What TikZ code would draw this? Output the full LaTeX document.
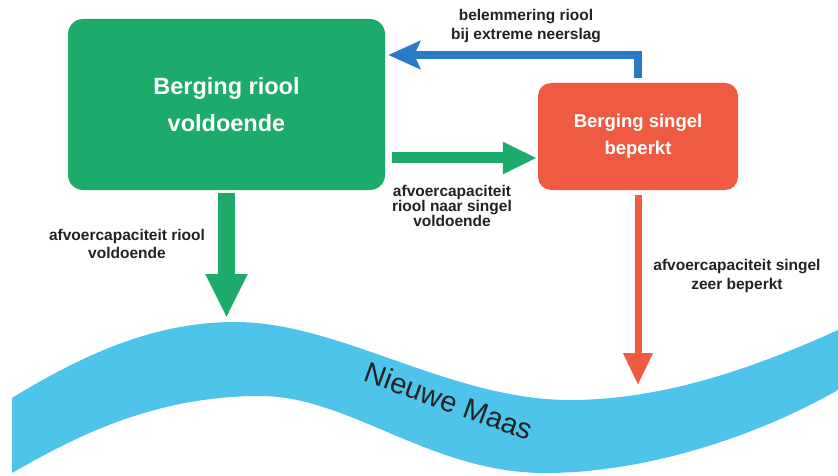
\documentclass[tikz,border=0pt]{standalone}
\usepackage{fontspec}
\setmainfont{Liberation Sans}
\usepackage{tikz}
\usetikzlibrary{positioning, arrows.meta}
\definecolor{rGreen}{HTML}{1DAB6B}
\definecolor{sRed}{HTML}{EF5B40}
\definecolor{bBlue}{HTML}{2A7BC6}
\definecolor{wRiver}{HTML}{4FC4EA}
\definecolor{nInk}{HTML}{222222}
\tikzset{
  storebox/.style={rounded corners=15pt, text=white, align=center},
  rioolbox/.style={storebox, fill=rGreen, minimum width=317pt, minimum height=171pt,
    font=\bfseries\fontsize{23.5}{37}\selectfont},
  singelbox/.style={storebox, fill=sRed, minimum width=200pt, minimum height=107pt,
    rounded corners=13pt, font=\bfseries\fontsize{18.5}{27}\selectfont},
  flowlabel/.style={text=nInk, align=center, font=\bfseries\fontsize{15.5}{18.5}\selectfont},
}

\begin{document}
\begin{tikzpicture}[x=1pt, y=-1pt, >=Stealth]
        \useasboundingbox (0,0) rectangle (838,476);
        % river
        \fill[wRiver] (12,398) .. controls (90,350) and (160,322) .. (235,322)
          .. controls (340,322) and (450,400) .. (570,400)
          .. controls (660,400) and (750,370) .. (838,330)
          -- (838,390) .. controls (750,440) and (640,473) .. (545,473)
          .. controls (430,473) and (350,396) .. (260,396)
          .. controls (150,396) and (70,440) .. (12,473) -- cycle;
        \node[text=nInk, font=\fontsize{29}{29}\selectfont, rotate=-20] (maas) at (449,401) {Nieuwe Maas};
        % storage
        \node[rioolbox] (riool) at (226.5,104.5) {Berging riool\\voldoende};
        \node[singelbox] (singel) at (638,136.5) {Berging singel\\beperkt};
        \coordinate (knik) at (638,55);
        \coordinate (midden) at (450,158);
        \coordinate (inlaat) at (226.5,318);
        \coordinate (uitlaat) at (638,385);
        % flows
        \draw[bBlue, line width=8pt, -{Stealth[length=32pt, width=28pt, inset=6pt]},
          shorten <=5pt, shorten >=3pt] (singel.north) -- (knik) -- (riool.east |- knik);
        \draw[rGreen, line width=11pt, -{Triangle[length=34pt, width=30pt]},
          shorten <=7pt, shorten >=1pt] (riool.east |- midden) -- (singel.west |- midden);
        \draw[rGreen, line width=17pt, -{Triangle[length=44pt, width=39pt]},
          shorten <=3pt] (riool.south) -- (inlaat);
        \draw[sRed, line width=7pt, -{Triangle[length=32pt, width=28pt]},
          shorten <=5pt] (singel.south) -- (uitlaat);
        % labels
        \node[flowlabel] (lblblok) at (526,26) {belemmering riool\\bij extreme neerslag};
        \node[flowlabel, font=\bfseries\fontsize{15.5}{15}\selectfont] (lbldoor) at (452,206) {afvoercapaciteit\\riool naar singel\\voldoende};
        \node[flowlabel] (lblriool) at (127,244) {afvoercapaciteit riool\\voldoende};
        \node[flowlabel] (lblsingel) at (737,276) {afvoercapaciteit singel\\zeer beperkt};
      \end{tikzpicture}
\end{document}
